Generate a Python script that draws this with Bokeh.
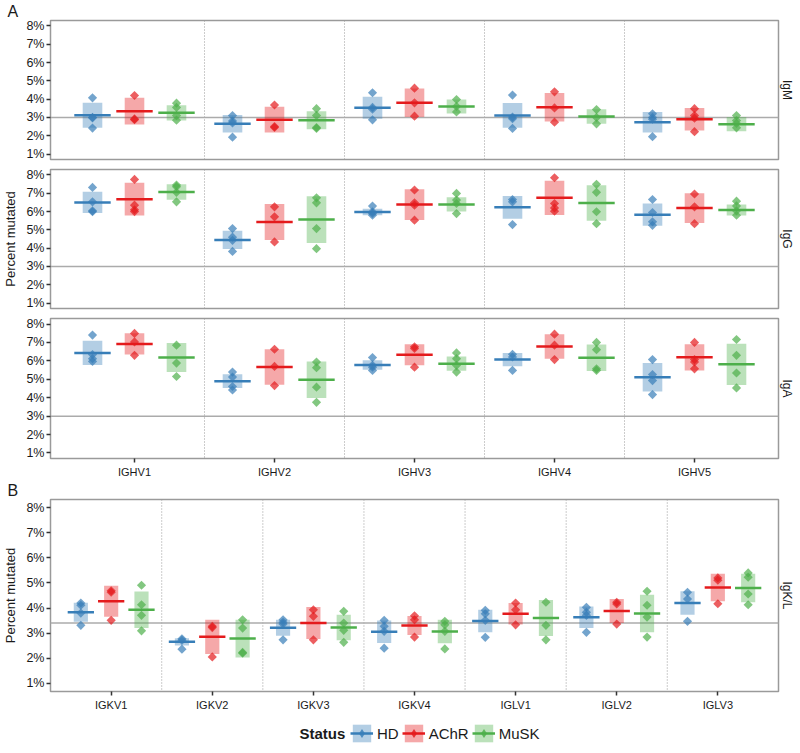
from math import pi
from bokeh.plotting import figure
from bokeh.models import (ColumnDataSource, FactorRange, Range1d, Span, Label, Legend,
                          LegendItem, FixedTicker, PrintfTickFormatter, LinearAxis)
from bokeh.transform import dodge
from bokeh.layouts import column
from bokeh.embed import file_html
from bokeh.resources import INLINE

# ---------------- data ----------------
heavy_genes = ["IGHV1", "IGHV2", "IGHV3", "IGHV4", "IGHV5"]
light_genes = ["IGKV1", "IGKV2", "IGKV3", "IGKV4", "IGLV1", "IGLV2", "IGLV3"]
statuses = ["HD", "AChR", "MuSK"]
status_colors = ["#377EB8", "#E41A1C", "#4DAF4A"]
y_ticks = [1, 2, 3, 4, 5, 6, 7, 8]
ref_heavy = 3.0
ref_light = 3.4

igm_mean = {"HD": [3.12, 2.65, 3.53, 3.11, 2.74],
            "AChR": [3.34, 2.88, 3.80, 3.56, 2.90],
            "MuSK": [3.25, 2.85, 3.60, 3.05, 2.63]}
igm_sd = {"HD": [0.68, 0.48, 0.60, 0.68, 0.56],
          "AChR": [0.73, 0.71, 0.78, 0.78, 0.62],
          "MuSK": [0.42, 0.49, 0.38, 0.40, 0.39]}
igm_pts = {"HD": [[4.07, 3.0, 2.98, 2.42], [3.1, 2.8, 2.7, 1.92], [4.35, 3.55, 3.45, 2.87],
                  [4.22, 3.02, 2.93, 2.4], [3.2, 3.0, 2.9, 1.95]],
           "AChR": [[4.2, 2.92, 2.88], [3.68, 2.5, 2.45], [4.6, 3.8, 3.07],
                    [4.4, 3.52, 2.74], [3.48, 3.1, 2.96, 2.22]],
           "MuSK": [[3.78, 3.55, 3.1, 2.85], [3.48, 3.1, 2.45, 2.4], [3.98, 3.6, 3.3],
                    [3.43, 3.0, 2.65], [3.1, 2.83, 2.68, 2.43]]}

igg_mean = {"HD": [6.50, 4.45, 5.98, 6.23, 5.83],
            "AChR": [6.68, 5.43, 6.38, 6.75, 6.19],
            "MuSK": [7.07, 5.56, 6.39, 6.47, 6.09]}
igg_sd = {"HD": [0.58, 0.50, 0.18, 0.62, 0.61],
          "AChR": [0.90, 0.98, 0.84, 0.94, 0.81],
          "MuSK": [0.43, 1.28, 0.39, 0.97, 0.30]}
igg_pts = {"HD": [[7.32, 6.53, 6.04, 5.99], [5.07, 4.6, 4.43, 3.82], [6.3, 5.98, 5.9, 5.8],
                  [6.66, 6.53, 5.29], [6.66, 5.95, 5.44, 5.25]],
           "AChR": [[7.76, 6.35, 6.1, 6.0], [6.26, 5.71, 4.34], [7.18, 6.48, 6.35, 5.53],
                    [7.85, 6.44, 6.2, 6.02], [6.96, 6.26, 5.34]],
           "MuSK": [[7.45, 7.36, 7.05, 6.53], [6.75, 6.48, 5.07, 3.97], [6.99, 6.63, 6.44, 5.89],
                    [7.49, 7.05, 5.99, 5.34], [6.57, 6.31, 6.04, 5.8]]}

iga_mean = {"HD": [6.43, 4.90, 5.78, 6.07, 5.11],
            "AChR": [6.92, 5.67, 6.33, 6.78, 6.19],
            "MuSK": [6.18, 4.98, 5.85, 6.17, 5.81]}
iga_sd = {"HD": [0.66, 0.37, 0.26, 0.36, 0.77],
          "AChR": [0.58, 0.96, 0.57, 0.67, 0.71],
          "MuSK": [0.79, 0.99, 0.39, 0.72, 1.12]}
iga_pts = {"HD": [[7.4, 6.34, 6.12, 5.97], [5.39, 5.12, 4.61, 4.42], [6.18, 5.76, 5.66, 5.48],
                  [6.36, 6.21, 5.48], [6.07, 5.26, 4.93, 4.17]],
           "AChR": [[7.49, 7.03, 6.3], [6.63, 5.7, 4.66], [6.76, 6.67, 5.66],
                    [7.45, 6.85, 6.07], [7.0, 6.07, 5.94, 5.57]],
           "MuSK": [[6.85, 5.88, 5.15], [5.94, 5.63, 4.57, 3.75], [6.43, 6.12, 5.76, 5.39],
                    [7.0, 6.61, 5.57, 5.48], [7.16, 6.3, 5.34, 4.53]]}

igkl_mean = {"HD": [3.83, 2.65, 3.21, 3.05, 3.48, 3.63, 4.20],
             "AChR": [4.27, 2.85, 3.40, 3.30, 3.77, 3.88, 4.82],
             "MuSK": [3.93, 2.78, 3.22, 3.06, 3.60, 3.78, 4.80]}
igkl_sd = {"HD": [0.38, 0.14, 0.32, 0.45, 0.45, 0.43, 0.47],
           "AChR": [0.62, 0.68, 0.64, 0.38, 0.43, 0.48, 0.55],
           "MuSK": [0.73, 0.75, 0.51, 0.47, 0.72, 0.75, 0.57]}
igkl_pts = {"HD": [[4.2, 4.11, 3.8, 3.31], [2.77, 2.71, 2.36], [3.53, 3.43, 3.36, 2.73],
                   [3.51, 3.27, 3.07, 2.4], [3.91, 3.77, 3.51, 2.83], [4.03, 3.83, 3.71, 3.03],
                   [4.63, 4.36, 3.47]],
            "AChR": [[4.69, 4.63, 3.51], [3.27, 3.22, 2.05], [3.93, 3.67, 2.73], [3.69, 3.53, 2.84],
                     [4.2, 3.93, 3.33], [4.23, 4.16, 3.36], [5.2, 5.11, 4.17]],
            "MuSK": [[4.91, 4.13, 3.71, 3.09], [3.53, 3.2, 2.23, 2.2], [3.87, 3.4, 3.11, 2.63],
                     [3.47, 3.33, 3.07, 2.37], [4.23, 3.31, 2.73], [4.67, 4.11, 3.64, 2.84],
                     [5.4, 5.23, 4.56, 4.13]]}

# ---------------- styling ----------------
FONT = "Liberation Sans"
FRAME_W = 728
LEFT = 50
RIGHT = 22
OFFSETS = [-0.3, 0.0, 0.3]
BOX_W = 0.14
LINE_HALF = 0.13
TEXT_COLOR = "#1a1a1a"


def make_sources(genes, mean, sd, pts, s):
    m = mean[s]
    d = sd[s]
    src = ColumnDataSource(data=dict(gene=genes, mean=m,
                                     lo=[a - b for a, b in zip(m, d)],
                                     hi=[a + b for a, b in zip(m, d)]))
    pg, pv = [], []
    for g, vals in zip(genes, pts[s]):
        for v in vals:
            pg.append(g)
            pv.append(v)
    psrc = ColumnDataSource(data=dict(gene=pg, val=pv))
    return src, psrc


def draw_group(p, xr, src, psrc, c, off, point_alpha=0.7, marker="square", angle=pi / 4):
    rb = p.vbar(x=dodge("gene", off, range=xr), width=BOX_W, bottom="lo", top="hi",
                source=src, fill_color=c, fill_alpha=0.38, line_color=None)
    rl = p.segment(x0=dodge("gene", off - LINE_HALF, range=xr),
                   x1=dodge("gene", off + LINE_HALF, range=xr),
                   y0="mean", y1="mean", source=src, line_color=c, line_width=2.5)
    rp = p.scatter(x=dodge("gene", off, range=xr), y="val", source=psrc, marker=marker,
                   angle=angle, size=6.5, fill_color=c, fill_alpha=point_alpha, line_color=None)
    return rb, rl, rp


def build_panel(genes, xr, yr, mean, sd, pts, ref, strip, frame_h, top, bottom,
                show_x, ylabel=False, letter=None):
    p = figure(x_range=xr, y_range=yr, frame_width=FRAME_W, frame_height=frame_h,
               min_border_left=LEFT, min_border_right=RIGHT,
               min_border_top=top, min_border_bottom=bottom,
               output_backend="svg", toolbar_location=None, tools="",
               x_axis_location="below" if show_x else None)
    p.grid.visible = False
    p.outline_line_color = "#9a9a9a"
    p.outline_line_width = 1.5
    p.background_fill_color = "white"
    p.border_fill_color = "white"

    ya = p.yaxis[0]
    ya.ticker = FixedTicker(ticks=y_ticks)
    ya.formatter = PrintfTickFormatter(format="%d%%")
    ya.axis_line_color = None
    ya.major_tick_out = 4
    ya.major_tick_in = 0
    ya.major_tick_line_color = "#333333"
    ya.major_tick_line_width = 1.5
    ya.minor_tick_line_color = None
    ya.major_label_standoff = 2
    ya.major_label_text_font = FONT
    ya.major_label_text_font_size = "12.5px"
    ya.major_label_text_color = TEXT_COLOR
    if ylabel:
        ya.axis_label = "Percent mutated"
        ya.axis_label_standoff = 5
        ya.axis_label_text_font = FONT
        ya.axis_label_text_font_size = "13px"
        ya.axis_label_text_font_style = "normal"
        ya.axis_label_text_color = TEXT_COLOR

    if show_x:
        xa = p.xaxis[0]
        xa.axis_line_color = None
        xa.major_tick_out = 4
        xa.major_tick_in = 0
        xa.major_tick_line_color = "#333333"
        xa.major_tick_line_width = 1.5
        xa.minor_tick_line_color = None
        xa.major_label_standoff = 3
        xa.major_label_text_font = FONT
        xa.major_label_text_font_size = "11px"
        xa.major_label_text_color = TEXT_COLOR

    # strip label on the right (facet name)
    ra = LinearAxis(ticker=FixedTicker(ticks=[]), axis_label=strip)
    ra.axis_line_color = None
    ra.major_tick_out = 0
    ra.major_tick_in = 0
    ra.major_label_standoff = 0
    ra.minor_tick_line_color = None
    ra.major_tick_line_color = None
    ra.axis_label_standoff = 1
    ra.axis_label_text_font = FONT
    ra.axis_label_text_font_size = "12px"
    ra.axis_label_text_font_style = "normal"
    ra.axis_label_text_color = TEXT_COLOR
    p.add_layout(ra, "right")

    if letter is not None:
        p.title.text = letter
        p.title.align = "left"
        p.title.offset = -43
        p.title.standoff = 0
        p.title.vertical_align = "middle"
        p.title.text_font = FONT
        p.title.text_font_size = "16px"
        p.title.text_font_style = "normal"
        p.title.text_color = TEXT_COLOR

    # category separators and reference line
    for i in range(1, len(genes)):
        p.add_layout(Span(location=i, dimension="height", line_color="#999999",
                          line_dash="1 2", line_width=1, level="underlay"))
    p.add_layout(Span(location=ref, dimension="width", line_color="#ababab",
                      line_width=1.5, level="underlay"))

    for s, c, off in zip(statuses, status_colors, OFFSETS):
        src, psrc = make_sources(genes, mean, sd, pts, s)
        draw_group(p, xr, src, psrc, c, off)
    return p


xr_heavy = FactorRange(factors=heavy_genes, range_padding=0.1, range_padding_units="absolute")
xr_light = FactorRange(factors=light_genes, range_padding=0.1, range_padding_units="absolute")

p1 = build_panel(heavy_genes, xr_heavy, Range1d(0.7, 8.3), igm_mean, igm_sd, igm_pts,
                 ref_heavy, "IgM", 139, 20, 5, False, letter="A")
p2 = build_panel(heavy_genes, xr_heavy, Range1d(0.7, 8.3), igg_mean, igg_sd, igg_pts,
                 ref_heavy, "IgG", 139, 5, 5, False, ylabel=True)
p3 = build_panel(heavy_genes, xr_heavy, Range1d(0.7, 8.3), iga_mean, iga_sd, iga_pts,
                 ref_heavy, "IgA", 140, 5, 22, True)
p4 = build_panel(light_genes, xr_light, Range1d(0.67, 8.33), igkl_mean, igkl_sd, igkl_pts,
                 ref_light, "IgK/L", 192, 19, 22, True, ylabel=True, letter="B")

# ---------------- legend panel ----------------
# Key glyphs reuse the IgK/L data; this strip's y range lies far above the
# data, so only the legend keys are visible here.
p5 = figure(x_range=xr_light, y_range=Range1d(100, 101), frame_width=FRAME_W, frame_height=32,
            min_border_left=LEFT, min_border_right=RIGHT, min_border_top=0, min_border_bottom=0,
            output_backend="svg", toolbar_location=None, tools="",
            x_axis_location=None, y_axis_location=None)
p5.grid.visible = False
p5.outline_line_color = None

items = []
for s, c, off in zip(statuses, status_colors, OFFSETS):
    src, psrc = make_sources(light_genes, igkl_mean, igkl_sd, igkl_pts, s)
    rb, rl, rp = draw_group(p5, xr_light, src, psrc, c, off, point_alpha=0.85,
                            marker="diamond", angle=0.0)
    items.append(LegendItem(label=s, renderers=[rb, rl, rp]))

legend = Legend(items=items, orientation="horizontal", location=(300, 1),
                glyph_width=23, glyph_height=22, label_standoff=4, spacing=3,
                padding=0, margin=0, border_line_color=None, background_fill_alpha=0,
                label_text_font=FONT, label_text_font_size="15px", label_text_color=TEXT_COLOR,
                label_text_baseline="middle")
p5.add_layout(legend, "center")
p5.add_layout(Label(x=249, y=12, x_units="screen", y_units="screen", text="Status",
                    text_align="left", text_baseline="middle", text_font=FONT,
                    text_font_size="15px", text_font_style="bold", text_color=TEXT_COLOR))

layout = column(p1, p2, p3, p4, p5, spacing=0)
open("out.html", "w").write(file_html(layout, INLINE))
